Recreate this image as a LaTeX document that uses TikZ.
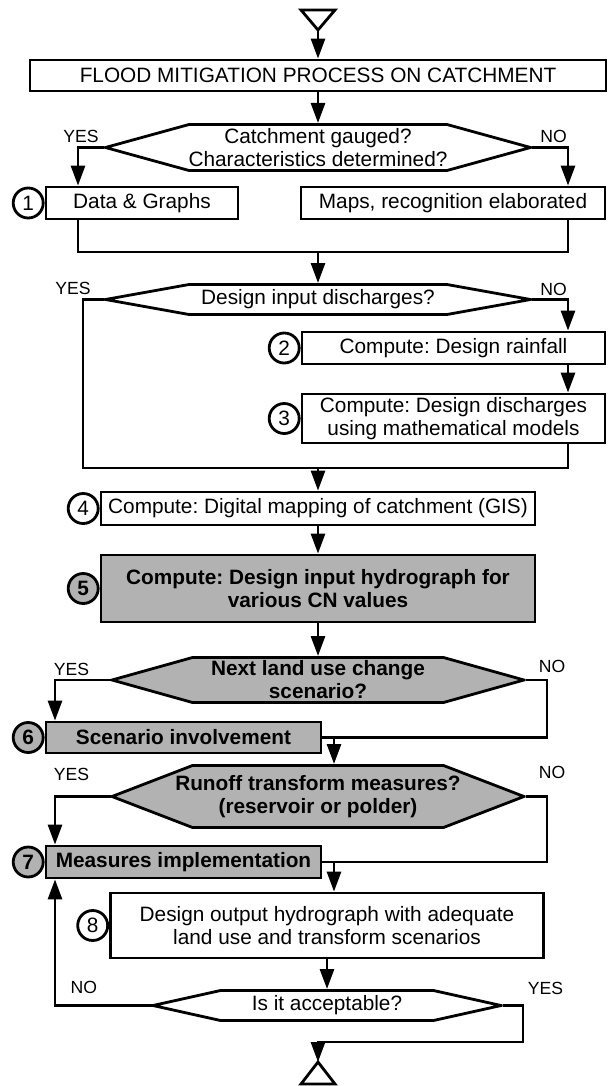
\documentclass[tikz,border=0pt]{standalone}
\usepackage{fontspec}
\setmainfont{Liberation Sans}
\frenchspacing
\definecolor{boxgray}{RGB}{178,178,178}
\usetikzlibrary{arrows.meta, positioning}

\begin{document}
\begin{tikzpicture}[x=0.5pt, y=-0.5pt,
  font=\fontsize{10.4}{11.5}\selectfont,
  conn/.style={line width=1.4pt},
  flow/.style={line width=1.4pt, -{Triangle[length=10pt, width=7pt]}},
  box/.style={draw, line width=1.4pt, fill=white, inner sep=0pt, align=center},
  graybox/.style={box, fill=boxgray, font=\fontsize{10.4}{11.5}\selectfont\bfseries},
  num/.style={circle, draw, line width=1.4pt, fill=white, minimum size=15pt, inner sep=0pt},
  graynum/.style={num, fill=boxgray, font=\fontsize{10.4}{11.5}\selectfont\bfseries},
  lbl/.style={inner sep=0pt, font=\fontsize{8.8}{10}\selectfont},
  decision/.style 2 args={rectangle, fill=white, inner sep=0pt, outer sep=0pt, align=center,
    path picture={
      \draw[line width=1.4pt, fill=#2]
        ([xshift=.75pt]path picture bounding box.west)
        -- ([xshift=#1, yshift=-.75pt]path picture bounding box.north west)
        -- ([xshift=-#1, yshift=-.75pt]path picture bounding box.north east)
        -- ([xshift=-.75pt]path picture bounding box.east)
        -- ([xshift=-#1, yshift=.75pt]path picture bounding box.south east)
        -- ([xshift=#1, yshift=.75pt]path picture bounding box.south west)
        -- cycle;}}
]
  \useasboundingbox (0,0) rectangle (607,1086);

  \node[box, minimum width=288pt, minimum height=15.5pt] (title) at (318,75.5) {FLOOD MITIGATION PROCESS ON CATCHMENT};
  \node[decision={42.5pt}{white}, minimum width=214pt, minimum height=24.5pt] (gauged) at (318,147.5) {Catchment gauged?\\Characteristics determined?};
  \node[box, minimum width=96pt, minimum height=16pt] (data) at (142,203) {Data \& Graphs};
  \node[box, minimum width=152pt, minimum height=16pt] (maps) at (453,203) {Maps, recognition elaborated};
  \node[decision={42.5pt}{white}, minimum width=214pt, minimum height=16.5pt] (discharges) at (318,299.5) {Design input discharges?};
  \node[box, minimum width=151.5pt, minimum height=16pt] (rainfall) at (453.5,348) {Compute: Design rainfall};
  \node[box, minimum width=151.5pt, minimum height=24.5pt] (models) at (453.5,418.5) {Compute: Design discharges\\using mathematical models};
  \node[box, minimum width=217pt, minimum height=16.5pt] (gis) at (318,508.5) {Compute: Digital mapping of catchment (GIS)};
  \node[graybox, minimum width=217pt, minimum height=33.5pt] (hydrograph) at (318,588.5) {Compute: Design input hydrograph for\\various CN values};
  \node[decision={41pt}{boxgray}, font=\fontsize{10.4}{11.5}\selectfont\bfseries, minimum width=207.5pt, minimum height=24pt] (landuse) at (318,680) {Next land use change\\scenario?};
  \node[graybox, minimum width=137.5pt, minimum height=15.5pt] (scenario) at (183.5,737.5) {Scenario involvement};
  \node[decision={41pt}{boxgray}, font=\fontsize{10.4}{11.5}\selectfont\bfseries, minimum width=207.5pt, minimum height=32.5pt] (runoff) at (318,796.5) {Runoff transform measures?\\(reservoir or polder)};
  \node[graybox, minimum width=137.5pt, minimum height=16pt] (measures) at (183.5,862) {Measures implementation};
  \node[box, minimum width=216.5pt, minimum height=32.5pt] (output) at (327,925.5) {Design output hydrograph with adequate\\land use and transform scenarios};
  \node[decision={34.5pt}{white}, minimum width=175.5pt, minimum height=16.5pt] (acceptable) at (327,1005.5) {Is it acceptable?};

  \node[num, left=0pt of data] (n1) {1};
  \node[num, left=0pt of rainfall] (n2) {2};
  \node[num, left=0pt of models] (n3) {3};
  \node[num, left=0pt of gis] (n4) {4};
  \node[graynum, left=0pt of hydrograph] (n5) {5};
  \node[graynum, left=0pt of scenario] (n6) {6};
  \node[graynum, left=0pt of measures] (n7) {7};
  \node[num, left=0pt of output] (n8) {8};

  \node[lbl, above left=2pt and 2.5pt of gauged.west] (yes1) {YES};
  \node[lbl, above right=2pt and 4pt of gauged.east] (no1) {NO};
  \node[lbl, above left=2pt and 6.5pt of discharges.west] (yes2) {YES};
  \node[lbl, above right=1.5pt and 4pt of discharges.east] (no2) {NO};
  \node[lbl, above left=2pt and 10.5pt of landuse.west] (yes3) {YES};
  \node[lbl, above right=3.5pt and 6.5pt of landuse.east] (no3) {NO};
  \node[lbl, above left=7.5pt and 10.5pt of runoff.west] (yes4) {YES};
  \node[lbl, above right=8.5pt and 6.5pt of runoff.east] (no4) {NO};
  \node[lbl, above left=5.5pt and 27pt of acceptable.west] (no5) {NO};
  \node[lbl, above right=5pt and 12.5pt of acceptable.east] (yes5) {YES};

  \coordinate (start) at (318,30);
  \coordinate (finish) at (318,1062);
  \coordinate (merge1) at (318,252);
  \coordinate (merge2) at (318,468);
  \coordinate (merge3) at (318,1042);
  \coordinate (colA) at (78,0);
  \coordinate (colB) at (568,0);
  \coordinate (colC) at (83,0);
  \coordinate (colD) at (55,0);
  \coordinate (colE) at (547,0);
  \coordinate (colF) at (334,0);
  \coordinate (colG) at (523,0);

  \draw[conn, fill=white] (start) -- ++(-17,-20) -- ++(34,0) -- cycle;
  \draw[conn, fill=white] (finish) -- ++(-17,22) -- ++(34,0) -- cycle;

  \draw[flow] (start) -- (title.north);
  \draw[flow] (title.south) -- (gauged.north);
  \draw[flow] (gauged.west) -| (colA |- data.north);
  \draw[flow] (gauged.east) -| (colB |- maps.north);
  \draw[conn] (colA |- data.south) |- (merge1) -| (colB |- maps.south);
  \draw[flow] (merge1) -- (discharges.north);
  \draw[flow] (discharges.east) -| (colB |- rainfall.north);
  \draw[flow] (colB |- rainfall.south) -- (colB |- models.north);
  \draw[conn] (discharges.west) -| (colC |- merge2) -| (colB |- models.south);
  \draw[flow] (merge2) -- (gis.north);
  \draw[flow] (gis.south) -- (hydrograph.north);
  \draw[flow] (hydrograph.south) -- (landuse.north);
  \draw[flow] (landuse.west) -| (colD |- scenario.north);
  \draw[conn] (landuse.east) -| (colE |- scenario.east) -- (scenario.east);
  \draw[flow] (colF |- scenario.east) -- (colF |- runoff.north);
  \draw[flow] (runoff.west) -| (colD |- measures.north);
  \draw[conn] (runoff.east) -| (colE |- measures.east) -- (measures.east);
  \draw[flow] (colF |- measures.east) -- (colF |- output.north);
  \draw[flow] (output.south) -- (acceptable.north);
  \draw[flow] (acceptable.west) -| (colD |- measures.south);
  \draw[flow] (acceptable.east) -| (colG |- merge3) -- (merge3) -- (finish);
\end{tikzpicture}
\end{document}
